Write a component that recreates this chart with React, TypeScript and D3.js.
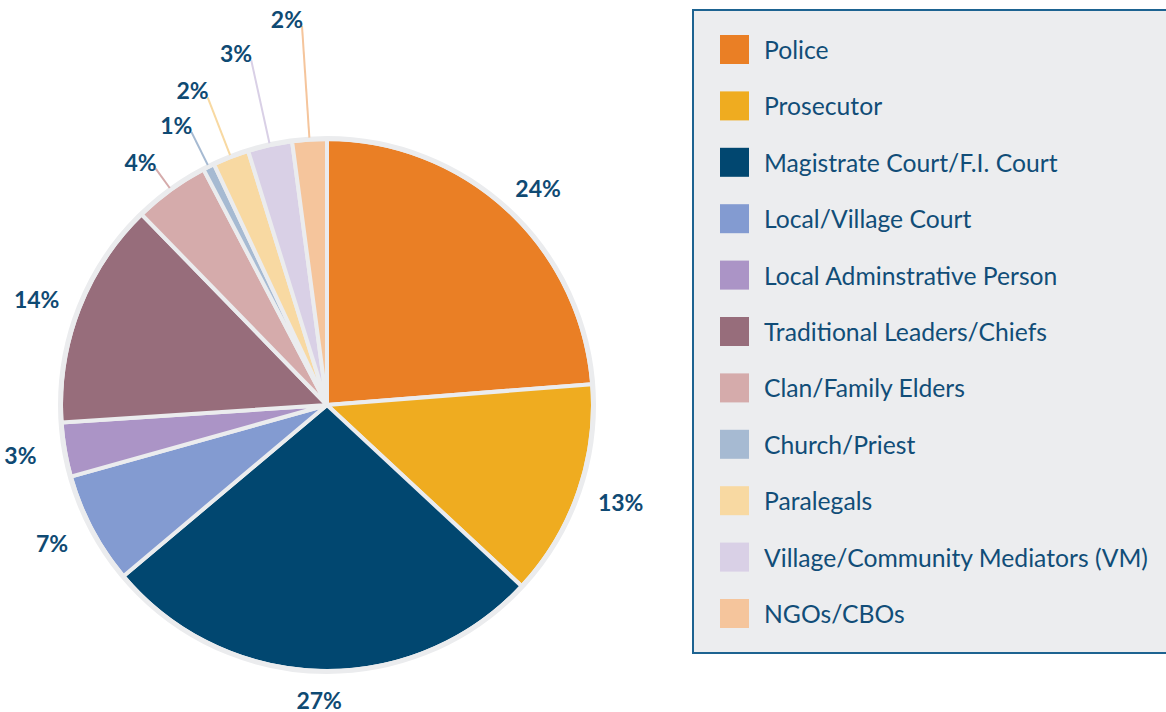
import React from "react";
import * as d3 from "d3";

const categories = [
  "Police",
  "Prosecutor",
  "Magistrate Court/F.I. Court",
  "Local/Village Court",
  "Local Adminstrative Person",
  "Traditional Leaders/Chiefs",
  "Clan/Family Elders",
  "Church/Priest",
  "Paralegals",
  "Village/Community Mediators (VM)",
  "NGOs/CBOs",
];
const values = [23.8, 13.2, 27, 6.8, 3.3, 13.8, 4.6, 0.7, 2.2, 2.7, 2.1];
const valueLabels = ["24%", "13%", "27%", "7%", "3%", "14%", "4%", "1%", "2%", "3%", "2%"];
const colors = [
  "#ea7f25",
  "#efac20",
  "#014770",
  "#839bd1",
  "#ab94c6",
  "#976d7b",
  "#d5abab",
  "#a6bad2",
  "#f8d9a2",
  "#d9d0e6",
  "#f5c59c",
];
// leader line length (beyond pie edge) for the small slices, 0 = no leader
const leaderLengths = [0, 0, 0, 0, 0, 0, 24, 37, 62, 85, 112];

const W = 1166;
const H = 712;
const cx = 327;
const cy = 405;
const R = 266;
const GREY = "#ebecee";
const TEXT = "#0f4a73";

export default function App() {
  const pie = d3.pie<number>().sort(null).value((d) => d);
  const arcs = pie(values);
  const arc = d3.arc<d3.PieArcDatum<number>>().innerRadius(0).outerRadius(R);

  const legendY = d3
    .scalePoint<string>()
    .domain(categories)
    .range([49.5, 613.5]);

  return (
    <div style={{ position: "absolute", left: 0, top: 0 }}>
      <svg width={W} height={H} style={{ display: "block" }}>
        <rect width={W} height={H} fill="#ffffff" />
        <g transform={`translate(${cx},${cy})`}>
          {arcs.map((a, i) => (
            <path key={i} d={arc(a) || ""} fill={colors[i]} stroke={GREY} strokeWidth={4} strokeLinejoin="round" />
          ))}
          <circle r={R + 0.5} fill="none" stroke={GREY} strokeWidth={5} />
          {arcs.map((a, i) => {
            const mid = (a.startAngle + a.endAngle) / 2;
            const s = Math.sin(mid);
            const c = -Math.cos(mid);
            if (leaderLengths[i] > 0) {
              const r0 = R + 2;
              const r1 = R + 2 + leaderLengths[i];
              const x1 = r1 * s;
              const y1 = r1 * c;
              return (
                <g key={"l" + i}>
                  <line x1={r0 * s} y1={r0 * c} x2={x1} y2={y1} stroke={colors[i]} strokeWidth={2} />
                  <text
                    x={x1 + 1}
                    y={y1 - 7}
                    textAnchor="end"
                    dominantBaseline="central"
                    fontFamily="Lato, 'Open Sans', sans-serif"
                    fontWeight={700}
                    fontSize={23}
                    fill={TEXT}
                  >
                    {valueLabels[i]}
                  </text>
                </g>
              );
            }
            const rr = R + 2 + 20;
            const x = rr * s + s * 23;
            const y = rr * c + c * 7;
            return (
              <text
                key={"t" + i}
                x={x}
                y={y}
                textAnchor="middle"
                dominantBaseline="central"
                fontFamily="Lato, 'Open Sans', sans-serif"
                fontWeight={700}
                fontSize={23}
                fill={TEXT}
              >
                {valueLabels[i]}
              </text>
            );
          })}
        </g>
        <rect x={693} y={10} width={500} height={643} fill="#ecedef" stroke="#1d6391" strokeWidth={2} />
        {categories.map((c, i) => {
          const y = legendY(c) as number;
          return (
            <g key={"lg" + i}>
              <rect x={720} y={y - 14.5} width={29} height={29} fill={colors[i]} />
              <text
                x={764}
                y={y}
                dominantBaseline="central"
                fontFamily="Lato, 'Open Sans', sans-serif"
                fontSize={24.7}
                fill="#114d78"
              >
                {c}
              </text>
            </g>
          );
        })}
      </svg>
    </div>
  );
}
